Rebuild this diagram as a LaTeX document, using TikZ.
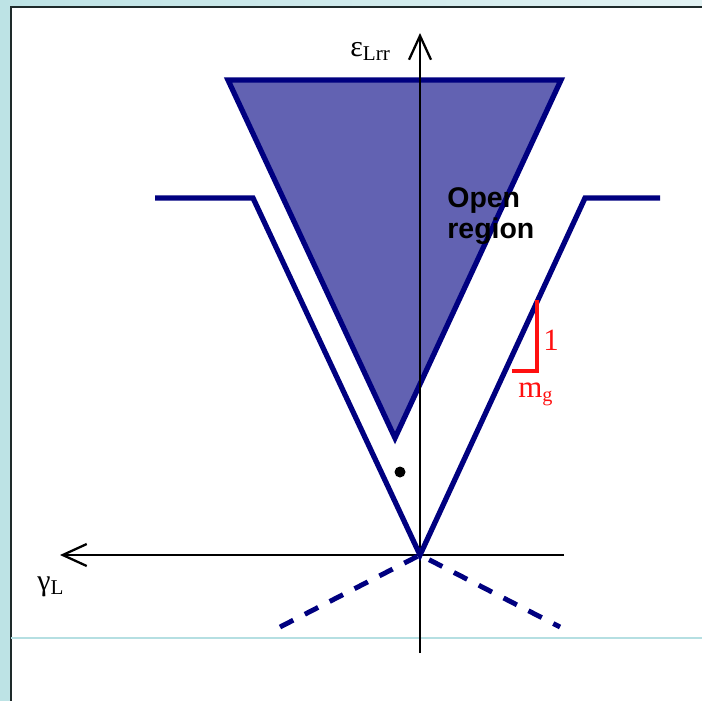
\documentclass[tikz,border=0pt]{standalone}
\usepackage{fontspec}
\setmainfont{Liberation Serif}
\setsansfont{Liberation Sans}
\usepackage{tikz}
\usepackage{xcolor}
\usetikzlibrary{arrows.meta,positioning,calc}
\definecolor{slidebg}{HTML}{BDE3E5}
\definecolor{slidebgr}{HTML}{E2F2F3}
\definecolor{frame}{HTML}{1E2A2A}
\definecolor{rule}{HTML}{B5DFE2}
\definecolor{bound}{HTML}{000080}
\definecolor{openfill}{HTML}{6262B2}
\definecolor{slope}{HTML}{FF1010}
\tikzset{
  axis/.style={draw=black, line width=1.4pt},
  axisarrow/.style={axis, -{Straight Barb[length=4.8mm, width=4.4mm, line width=1.3pt]}},
  boundary/.style={draw=bound, line width=3pt, line join=miter},
  extension/.style={draw=bound, line width=2.8pt, dash pattern=on 8.5pt off 7.4pt},
  slopemark/.style={draw=slope, line width=1.8pt},
  axislabel/.style={font=\fontsize{17}{19}\selectfont, inner sep=0pt},
  slopelabel/.style={font=\fontsize{17.6}{19}\selectfont, text=slope, inner sep=0pt}
}

\begin{document}
\begin{tikzpicture}[x=0.02cm,y=-0.02cm]
      \useasboundingbox (0,0) rectangle (702,700);
      % slide background
      \shade[left color=slidebg, right color=slidebgr] (-2,-2) rectangle (704,702);
      \fill[white] (11,7) rectangle (704,702);
      \draw[draw=frame, line width=1.2pt] (11,702) -- (11,7) -- (704,7);
      \draw[draw=rule, line width=0.7pt] (11,638) -- (702,638);

      % key points
      \coordinate (O) at (420,555);
      \coordinate (tl) at (228,80);
      \coordinate (tr) at (561,80);
      \coordinate (tb) at (395,438);

      % open region
      \filldraw[boundary, fill=openfill] (tl) -- (tr) -- (tb) -- cycle;

      % axes
      \coordinate (ytop) at (420,33);
      \coordinate (ybot) at (420,653);
      \coordinate (xleft) at (60,555);
      \coordinate (xright) at (564,555);
      \draw[axisarrow] (ybot) -- (ytop);
      \draw[axisarrow] (xright) -- (xleft);
      \node[axislabel, anchor=base west] (epsl) at (350,56) {ε\textsubscript{\fontsize{12}{13}\selectfont Lrr}};
      \node[axislabel, anchor=base west] (gaml) at (37,590) {γ\textsubscript{\fontsize{12}{13}\selectfont L}};

      % V boundary
      \draw[boundary] (155,198) -- (253,198) -- (O) -- (585,198) -- (660,198);

      % dashed extensions
      \draw[extension] (280,627) -- (O) -- (560,627);

      % point
      \fill[black] (400,472) circle[radius=5.5];

      % label
      \node[font=\sffamily\bfseries\fontsize{16.2}{17.8}\selectfont, align=left,
            anchor=north west, inner sep=0pt] (openl) at (447,187) {Open\\region};

      % slope marker
      \coordinate (s1) at (537,300);
      \coordinate (s2) at (537,371);
      \coordinate (s3) at (512,371);
      \draw[slopemark] (s1) -- (s2) -- (s3);
      \node[slopelabel, anchor=base] (one) at (551,350) {1};
      \node[slopelabel, anchor=base west] (mg) at (518,397) {m\textsubscript{\fontsize{11.5}{12}\selectfont g}};
    \end{tikzpicture}
\end{document}
